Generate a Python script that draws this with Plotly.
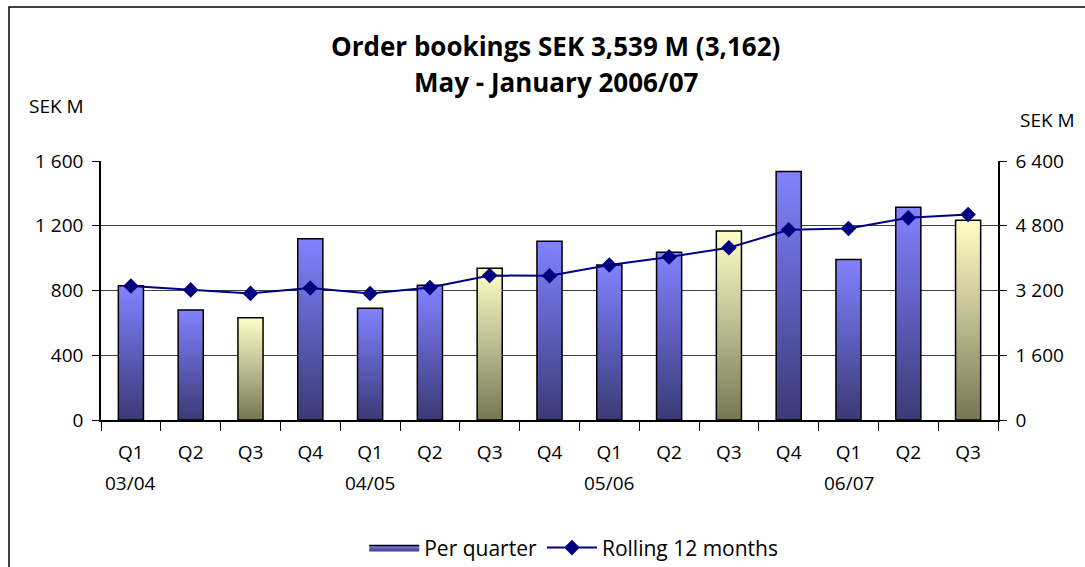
import plotly.graph_objects as go

quarters = ["Q1", "Q2", "Q3", "Q4", "Q1", "Q2", "Q3", "Q4", "Q1", "Q2", "Q3", "Q4", "Q1", "Q2", "Q3"]
years = ["03/04", "04/05", "05/06", "06/07"]
year_start_index = [0, 4, 8, 12]
per_quarter = [830, 680, 632, 1120, 690, 832, 938, 1105, 957, 1037, 1167, 1535, 992, 1315, 1234]
rolling_12m = [3310, 3215, 3128, 3262, 3125, 3272, 3570, 3563, 3830, 4030, 4255, 4700, 4731, 4995, 5078]
left_ticks = [0, 400, 800, 1200, 1600]
left_ticktext = ["0", "400", "800", "1 200", "1 600"]
right_ticks = [0, 1600, 3200, 4800, 6400]
right_ticktext = ["0", "1 600", "3 200", "4 800", "6 400"]
title_line1 = "Order bookings SEK 3,539 M (3,162)"
title_line2 = "May - January 2006/07"

FONT = "Open Sans, Liberation Sans, Arial, sans-serif"
BLUE_SCALE = [[0, "#3a3a74"], [0.5, "#5d5dbd"], [1, "#8282ff"]]
YELLOW_SCALE = [[0, "#767652"], [0.5, "#bdbd92"], [1, "#ffffc6"]]
BAR_W = 0.42

fig = go.Figure()

idx = list(range(len(quarters)))
first_blue = True
for i, (q, v) in enumerate(zip(quarters, per_quarter)):
    scale = YELLOW_SCALE if q == "Q3" else BLUE_SCALE
    show = (q != "Q3") and first_blue
    if show:
        first_blue = False
    x0, x1 = i - BAR_W / 2, i + BAR_W / 2
    fig.add_trace(go.Scatter(
        x=[x0, x0, x1, x1, x0], y=[0, v, v, 0, 0],
        mode="lines", fill="toself",
        fillgradient=dict(type="vertical", colorscale=scale),
        line=dict(color="black", width=1.5),
        name="Per quarter", legendgroup="pq", showlegend=show,
        hoverinfo="skip",
    ))

fig.add_trace(go.Scatter(
    x=idx, y=rolling_12m, yaxis="y2", mode="lines+markers",
    name="Rolling 12 months",
    line=dict(color="#000080", width=2),
    marker=dict(symbol="diamond", size=12, color="#000080"),
))

fig.update_layout(
    width=1085, height=567,
    margin=dict(l=101, r=87, t=161, b=147, autoexpand=False),
    paper_bgcolor="white", plot_bgcolor="white",
    font=dict(family=FONT, size=19, color="black"),
    showlegend=True,
    legend=dict(orientation="h", x=0.527, xanchor="center", y=-0.494, yanchor="middle",
                font=dict(size=21), itemwidth=50, bgcolor="rgba(0,0,0,0)"),
    xaxis=dict(range=[-0.5, len(quarters) - 0.5], tickmode="array", tickvals=idx, ticktext=quarters,
               ticks="", showgrid=False, zeroline=False, showline=True, linecolor="black", linewidth=1.5,
               ticklabelstandoff=14,
               minor=dict(tickmode="array", tickvals=[i - 0.5 for i in range(len(quarters) + 1)],
                          ticks="outside", ticklen=9, tickcolor="black", tickwidth=1)),
    yaxis=dict(range=[0, 1600], tickmode="array", tickvals=left_ticks, ticktext=left_ticktext,
               showgrid=True, gridcolor="#404040", gridwidth=1, zeroline=False,
               showline=True, linecolor="black", linewidth=1.5, ticklabelstandoff=5,
               ticks="outside", ticklen=7, tickcolor="black"),
    yaxis2=dict(range=[0, 6400], overlaying="y", side="right", tickmode="array",
                tickvals=right_ticks, ticktext=right_ticktext, showgrid=False, zeroline=False,
                showline=True, linecolor="black", linewidth=1.5, ticklabelstandoff=5,
                ticks="outside", ticklen=7, tickcolor="black"),
)

annotations = [
    dict(text="<b>%s</b>" % title_line1, x=0.507, y=(420 - 46) / 259, xref="paper", yref="paper",
         showarrow=False, font=dict(size=26), xanchor="center", yanchor="middle"),
    dict(text="<b>%s</b>" % title_line2, x=0.507, y=(420 - 82) / 259, xref="paper", yref="paper",
         showarrow=False, font=dict(size=26), xanchor="center", yanchor="middle"),
    dict(text="SEK M", x=(56 - 101) / 897, y=(420 - 106) / 259, xref="paper", yref="paper",
         showarrow=False, font=dict(size=19), xanchor="center", yanchor="middle"),
    dict(text="SEK M", x=(1047 - 101) / 897, y=(420 - 120) / 259, xref="paper", yref="paper",
         showarrow=False, font=dict(size=19), xanchor="center", yanchor="middle"),
]
for yr, si in zip(years, year_start_index):
    annotations.append(dict(text=yr, x=si, y=(420 - 483) / 259, xref="x", yref="paper",
                            showarrow=False, font=dict(size=19), xanchor="center", yanchor="middle"))
fig.update_layout(annotations=annotations)

fig.add_shape(type="rect", xref="paper", yref="paper",
              x0=(9 - 101) / 897, x1=(1095 - 101) / 897, y0=(420 - 580) / 259, y1=(420 - 7) / 259,
              line=dict(color="black", width=1.5), layer="below")

fig.write_html("out.html", config={"displayModeBar": False},
               post_script="document.body.style.margin='0';document.body.style.overflow='hidden';")
